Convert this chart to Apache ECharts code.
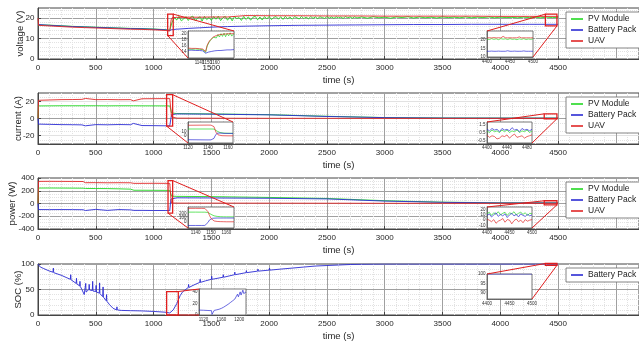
<!DOCTYPE html>
<html>
<head>
<meta charset="utf-8">
<script src="https://cdn.jsdelivr.net/npm/echarts@6/dist/echarts.min.js"></script>
<style>
  html, body { margin: 0; padding: 0; background: #fff; }
  #chart { width: 639px; height: 344px; }
</style>
</head>
<body>
<div id="chart"></div>
<script>
// ---- main plots: voltage ----
const vT   = [0, 5, 100, 200, 300, 400, 500, 600, 700, 800, 900, 1000, 1100, 1140, 1148, 1152, 1160, 1200, 1300, 1400,
              1500, 1640, 1650, 1800, 2000, 2250, 2500, 2750, 3000, 3250, 3500, 3750, 4000, 4250, 4500];
const vUav = [20.0, 16.5, 16.2, 15.9, 15.6, 15.4, 15.2, 15.0, 14.8, 14.6, 14.5, 14.3, 14.0, 13.7, 13.4, 19.2, 20.2, 20.4, 20.5, 20.5,
              20.6, 20.6, 21.3, 21.3, 21.2, 21.2, 21.1, 21.1, 21.0, 21.0, 21.0, 21.0, 20.9, 20.9, 20.9];
const vBat = [16.9, 16.8, 16.5, 16.2, 15.9, 15.7, 15.5, 15.3, 15.1, 14.9, 14.8, 14.6, 14.3, 14.0, 13.6, 14.1, 14.4, 14.6, 15.0, 15.3,
              15.6, 15.9, 15.9, 16.1, 16.3, 16.5, 16.6, 16.7, 16.8, 16.9, 16.9, 17.0, 17.0, 17.0, 17.0];
const pvVT = [0, 100, 200, 300, 400, 500, 600, 700, 800, 900, 1000, 1100, 1140, 1148,
              1160, 1180, 1200, 1220, 1240, 1260, 1280, 1300, 1320, 1340,
              1360, 1380, 1400, 1420, 1440, 1460, 1480, 1500, 1520, 1540,
              1560, 1580, 1600, 1620, 1640, 1660, 1680, 1700, 1720, 1740,
              1760, 1780, 1800, 1820, 1840, 1860, 1880, 1900, 1920, 1940,
              1960, 1980, 2000, 2020, 2040, 2060, 2080, 2100, 2120, 2140,
              2160, 2180, 2200, 2220, 2240, 2260, 2280, 2300, 2320, 2340,
              2360, 2380, 2400, 2420, 2440, 2460, 2480, 2500, 2520, 2540,
              2560, 2580, 2600, 2620, 2640, 2660, 2680, 2700, 2720, 2740,
              2760,
              2800, 2850, 2900, 2950, 3000, 3050, 3100, 3150, 3200, 3250,
              3300, 3350, 3400, 3450, 3500, 3550, 3600, 3650, 3700, 3750,
              3800, 3850, 3900, 3950, 4000, 4050, 4100, 4150, 4200, 4250,
              4300, 4350, 4400, 4450, 4500];
const pvV  = [16.7, 16.6, 16.3, 16.0, 15.8, 15.6, 15.4, 15.2, 15.0, 14.9, 14.7, 14.4, 14.1, 13.7,
              18.0, 20.4, 19.1, 20.9, 18.7, 19.6, 20.8, 18.9, 20.5, 21.0,
              18.8, 19.9, 20.7, 18.6, 20.9, 19.3, 20.4, 18.9, 20.8, 19.5,
              21.0, 18.8, 20.2, 20.9, 19.0, 20.6, 18.7, 20.8, 19.8, 20.3,
              18.9, 20.9, 19.4, 20.7, 19.0, 20.5, 20.9, 19.2, 20.6, 19.1,
              20.8, 19.6, 20.9, 19.3, 20.4, 20.8, 19.5, 20.7, 19.4, 20.9,
              19.7, 20.6, 19.5, 20.8, 20.2, 19.6, 20.9, 19.8, 20.5, 19.7,
              20.8, 19.9, 20.6, 19.8, 20.7, 20.3, 19.9, 20.8, 20.0, 20.6,
              19.9, 20.7, 20.1, 20.6, 19.9, 20.8, 20.2, 20.6, 20.0, 20.7,
              20.1,
              20.6, 20.0, 20.7, 20.2, 20.5, 20.0, 20.6, 20.3, 20.7, 20.1,
              20.6, 20.2, 20.5, 20.1, 20.6, 20.3, 20.5, 20.2, 20.6, 20.2,
              20.5, 20.3, 20.6, 20.2, 20.5, 20.3, 20.4, 20.2, 20.5, 20.3,
              20.5, 20.2, 20.5, 20.3, 20.4];

// ---- current ----
const cT   = [0, 5, 100, 200, 300, 380, 390, 410, 420, 500, 600, 700, 800, 815, 825, 840, 900, 1000, 1100, 1140,
              1146, 1150, 1155, 1160, 1200, 1500, 2000, 2500, 3000, 3500, 4000, 4500];
const cUav = [0, 21.4, 21.8, 22.2, 22.3, 22.5, 23.8, 23.6, 22.0, 22.2, 22.3, 22.1, 22.2, 22.0, 20.8, 23.0, 23.2, 23.3, 23.4, 23.4,
              23.0, 10.0, 2.0, 0.6, 0.4, 0.3, 0.2, 0.2, 0.1, 0.1, 0.1, 0.1];
const cPv  = [0, 14.8, 14.9, 15.0, 15.0, 15.0, 15.0, 15.0, 14.9, 15.0, 14.9, 15.0, 15.0, 15.0, 15.0, 15.0, 14.9, 14.9, 14.8, 14.8,
              14.6, 10.0, 6.5, 6.0, 5.8, 5.4, 4.5, 2.6, 1.1, 0.6, 0.5, 0.5];
const cBat = [0, -6.6, -6.9, -7.2, -7.3, -7.5, -8.8, -8.6, -7.0, -7.2, -7.4, -7.1, -7.3, -7.0, -5.8, -8.0, -8.3, -8.4, -8.6, -8.6,
              -8.4, 0.0, 4.5, 5.4, 5.4, 5.1, 4.3, 2.4, 1.0, 0.5, 0.4, 0.4];

// ---- power ----
const pT   = [0, 5, 100, 200, 300, 390, 410, 500, 600, 700, 800, 815, 830, 900, 1000, 1100, 1140, 1146, 1150, 1155,
              1200, 1500, 2000, 2500, 3000, 3500, 4000, 4500];
const pUav = [0, 347, 348, 347, 346, 345, 326, 327, 325, 326, 325, 300, 316, 316, 317, 316, 315, 300, 80, 8,
              6, 6, 5, 4, 3, 3, 2, 2];
const pPv  = [0, 242, 243, 242, 241, 240, 236, 235, 234, 230, 225, 210, 208, 208, 207, 206, 205, 200, 150, 115,
              112, 108, 95, 79, 44, 21, 11, 10];
const pBat = [0, -95, -96, -95, -96, -98, -110, -92, -108, -95, -100, -70, -108, -108, -110, -110, -110, -100, 70, 90,
              89, 87, 82, 72, 38, 18, 9, 8];

// ---- SOC ----
const sT = [0, 20, 50, 100, 130, 133, 136, 150, 200, 250,
            280, 283, 286, 300, 330, 333, 336, 360, 363, 366,
            380, 400, 410, 413, 416, 440, 443, 446, 470, 473,
            476, 500, 503, 506, 530, 533, 536, 560, 563, 566,
            590, 593, 596, 620, 650, 680, 683, 686, 720, 800,
            900, 1000, 1100, 1140, 1148, 1152, 1170, 1200, 1230, 1250,
            1300, 1303, 1306, 1350, 1400, 1403, 1406, 1450, 1500, 1503,
            1506, 1600, 1603, 1606, 1700, 1703, 1706, 1800, 1803, 1806,
            1900, 1903, 1906, 2000, 2003, 2006, 2100, 2103, 2106, 2200,
            2300, 2303, 2306, 2400, 2500, 2600, 2700, 2800, 3000, 3500,
            4000, 4500];
const sV = [100, 94, 91, 86, 84, 92, 83, 82, 78, 73,
            70, 79, 69, 66, 62, 72, 61, 57, 66, 56,
            50, 40, 42, 62, 45, 50, 60, 49, 48, 66,
            47, 46, 58, 45, 43, 63, 42, 36, 55, 35,
            28, 40, 27, 20, 13, 10, 16, 10, 9, 8.5,
            8, 7, 5.5, 4, 1, 3, 10, 22, 38, 45,
            54, 60, 54, 59, 64, 70, 64, 67, 70, 76,
            70, 74, 79, 74, 79, 84, 79, 83, 87, 83,
            86, 90, 86, 88, 92, 88, 90, 93, 90, 92,
            94, 97, 94, 96, 97, 98, 99, 99.5, 100, 100,
            100, 100];

// ---- inset data ----
const iv1T   = [1125, 1130, 1135, 1140, 1144, 1146, 1148, 1150, 1152, 1154, 1156, 1158, 1160, 1162, 1164, 1166, 1168, 1170, 1172, 1174, 1176, 1178, 1180, 1182, 1185];
const iv1Pv  = [15.0, 14.9, 15.0, 14.9, 14.8, 14.4, 13.9, 16.0, 17.0, 17.8, 18.3, 18.9, 19.4, 18.7, 19.8, 19.0, 20.1, 19.2, 20.3, 19.1, 20.2, 19.4, 20.4, 19.3, 20.2];
const iv1Bat = [14.6, 14.6, 14.5, 14.5, 14.4, 14.2, 13.6, 13.8, 14.0, 14.1, 14.2, 14.3, 14.4, 14.4, 14.5, 14.5, 14.5, 14.6, 14.6, 14.6, 14.7, 14.7, 14.7, 14.8, 14.8];
const iv1Uav = [15.3, 15.2, 15.2, 15.1, 15.0, 14.8, 14.2, 16.2, 17.3, 18.0, 18.5, 19.0, 19.4, 19.5, 19.7, 19.8, 19.9, 19.9, 20.0, 20.0, 20.0, 20.1, 20.1, 20.1, 20.1];

const iv2T   = [4400, 4405, 4410, 4415, 4420, 4425, 4430, 4435, 4440, 4445, 4450, 4455, 4460, 4465, 4470, 4475, 4480, 4485, 4490, 4495, 4500];
const iv2Pv  = [20.4, 20.1, 20.6, 20.2, 20.5, 20.0, 20.6, 20.3, 20.5, 20.1, 20.6, 20.2, 20.4, 20.0, 20.5, 20.2, 20.6, 20.1, 20.4, 20.2, 20.5];
const iv2Uav = [21.0, 21.1, 21.0, 21.2, 21.0, 21.1, 21.0, 21.9, 21.1, 21.0, 21.1, 21.0, 21.1, 21.0, 21.6, 21.0, 21.1, 21.0, 21.1, 21.0, 21.1];
const iv2Bat = [13.3, 13.3, 13.4, 13.3, 13.3, 13.4, 13.3, 13.3, 13.3, 13.6, 13.3, 13.3, 13.4, 13.3, 13.3, 13.3, 13.5, 13.3, 13.3, 13.3, 13.3];

const ic1T   = [1120, 1130, 1140, 1143, 1145, 1146, 1147, 1148, 1149, 1150, 1152, 1154, 1156, 1160, 1165];
const ic1Uav = [23.0, 23.2, 23.4, 23.3, 23.0, 20.0, 14.0, 8.0, 4.5, 2.5, 1.2, 0.7, 0.5, 0.4, 0.4];
const ic1Pv  = [15.0, 15.0, 15.0, 15.0, 15.0, 14.8, 14.0, 12.0, 10.5, 9.0, 7.5, 6.6, 6.1, 5.9, 5.8];
const ic1Bat = [-8.0, -8.2, -8.4, -8.3, -8.0, -5.0, 0.0, 4.0, 6.0, 6.5, 6.3, 5.9, 5.6, 5.5, 5.4];

const ic2T   = [4400, 4405, 4410, 4415, 4420, 4425, 4430, 4435, 4440, 4445, 4450, 4455, 4460, 4465, 4470, 4475, 4480, 4485, 4490];
const ic2Bat = [0.9, 0.7, 1.0, 0.8, 0.9, 0.6, 1.0, 0.8, 0.9, 0.7, 1.1, 0.8, 0.9, 0.6, 1.0, 0.8, 0.9, 0.7, 0.9];
const ic2Pv  = [0.7, 0.5, 0.8, 0.6, 0.7, 0.5, 0.8, 0.6, 0.8, 0.5, 0.7, 0.6, 0.8, 0.5, 0.7, 0.6, 0.8, 0.5, 0.7];
const ic2Uav = [0.2, -0.1, 0.1, 0.0, -0.3, -0.2, 0.1, 0.0, 0.2, -0.2, 0.1, 0.3, -0.1, 0.0, 0.1, -0.2, 0.0, 0.1, 0.2];

const ip1T   = [1135, 1140, 1144, 1146, 1147, 1148, 1149, 1150, 1151, 1152, 1154, 1156, 1158, 1160, 1165];
const ip1Uav = [318, 318, 317, 316, 300, 240, 150, 80, 40, 18, 6, 2, 0, -2, -2];
const ip1Pv  = [228, 228, 227, 227, 226, 220, 200, 175, 155, 140, 126, 120, 117, 116, 115];
const ip1Bat = [-90, -90, -90, -89, -74, -20, 40, 70, 82, 86, 88, 88, 88, 88, 88];

const ip2T   = [4400, 4405, 4410, 4415, 4420, 4425, 4430, 4435, 4440, 4445, 4450, 4455, 4460, 4465, 4470, 4475, 4480, 4485, 4490, 4495, 4500];
const ip2Pv  = [12, 15, 9, 14, 11, 16, 10, 13, 15, 9, 14, 12, 16, 10, 13, 15, 11, 14, 9, 13, 12];
const ip2Bat = [9, 12, 6, 10, 14, 7, 11, 8, 12, 5, 10, 13, 8, 11, 6, 12, 9, 7, 11, 8, 10];
const ip2Uav = [2, 0, -3, 1, -6, -2, 0, 3, -4, 1, 0, -7, -1, 2, -3, 0, -5, 1, -2, 0, 1];

const is1T   = [1110, 1120, 1130, 1138, 1139, 1143, 1144, 1150, 1155, 1160, 1165, 1170, 1175, 1180, 1185, 1190, 1194, 1196, 1198, 1200, 1202, 1204, 1206, 1208, 1210, 1212, 1215];
const is1Soc = [8.5, 8.2, 7.8, 7.5, 1.0, 1.0, 8.0, 9.0, 10.0, 11.5, 13.5, 16.0, 18.5, 21.5, 24.5, 27.5, 30.0, 36.0, 31.5, 33.0, 40.0, 34.5, 36.0, 43.0, 37.0, 38.5, 40.0];
const is2T   = [4400, 4500];
const is2Soc = [100, 100];

const xTicks = [0, 500, 1000, 1500, 2000, 2500, 3000, 3500, 4000, 4500, 5000];
const legendNames = ['PV Module', 'Battery Pack', 'UAV'];

const FONT = 'Liberation Sans, Arial, Helvetica, sans-serif';
const GREEN = '#22d822', BLUE = '#2b2bd4', RED = '#e02626', ZOOM = '#e01e1e';
const plain = v => String(v);

const mainTops = [8, 93, 178, 264];
const mainH = 51;
const yMain = [
  { name: 'voltage (V)', min: 0, max: 25, interval: 10, minor: 5, gap: 12.5 },
  { name: 'current (A)', min: -30, max: 30, interval: 10, minor: 2, gap: 14.5 },
  { name: 'power (W)', min: -400, max: 400, interval: 200, minor: 4, gap: 20.5 },
  { name: 'SOC (%)', min: 0, max: 100, interval: 50, minor: 5, gap: 14.5 }
];
yMain[1].labels = [-20, 0, 20];

// inset boxes (pixels) and axis ranges
const insets = [
  { box: [188, 31, 46, 27], x: [1125, 1185], y: [12, 21], xl: [1130, 1140, 1150, 1160, 1170], yl: [14, 16, 18, 20] },
  { box: [487, 31, 46, 26], x: [4400, 4500], y: [10, 25], xl: [4400, 4450, 4500], yl: [10, 15, 20] },
  { box: [188, 122, 45, 21], x: [1120, 1165], y: [-15, 30], xl: [1120, 1140, 1160], yl: [-10, 0, 10, 20] },
  { box: [487, 122, 45, 21], x: [4400, 4490], y: [-0.8, 1.8], xl: [4400, 4440, 4480], yl: [-0.5, 0.5, 1.5] },
  { box: [188, 207, 46, 21], x: [1135, 1165], y: [-150, 350], xl: [1140, 1150, 1160], yl: [-100, 0, 100, 200, 300] },
  { box: [487, 207, 45, 21], x: [4400, 4500], y: [-15, 25], xl: [4400, 4450, 4500], yl: [-10, 0, 10, 20] },
  { box: [199, 289, 47, 26], x: [1110, 1215], y: [0, 45], xl: [1120, 1160, 1200], yl: [0, 20, 40] },
  { box: [487, 274, 45, 25], x: [4400, 4500], y: [87, 100], xl: [4400, 4450, 4500], yl: [90, 95, 100] }
];

// zoom rectangles in main-plot data units, linked corners (main -> inset)
const zooms = [
  { grid: 0, inset: 0, x: [1122, 1170], y: [11.5, 22], links: [['tr', 'tr'], ['bl', 'bl']] },
  { grid: 0, inset: 1, x: [4390, 4490], y: [16.2, 22], links: [['tl', 'tl'], ['br', 'br']] },
  { grid: 1, inset: 2, x: [1113, 1165], y: [-9, 28], links: [['tr', 'tr'], ['bl', 'bl']] },
  { grid: 1, inset: 3, x: [4380, 4490], y: [-0.3, 5.5], links: [['tl', 'tl'], ['br', 'br']] },
  { grid: 2, inset: 4, x: [1125, 1165], y: [-152, 360], links: [['tr', 'tr'], ['bl', 'bl']] },
  { grid: 2, inset: 5, x: [4380, 4490], y: [-21, 43], links: [['tl', 'tl'], ['br', 'br']] },
  { grid: 3, inset: 6, x: [1113, 1214], y: [0, 46], links: [['tr', 'tl'], ['br', 'bl']] },
  { grid: 3, inset: 7, x: [4390, 4490], y: [97.5, 101], links: [['tl', 'tl'], ['br', 'br']] }
];

const pairs = (t, v) => t.map((x, i) => [x, v[i]]);

function line(name, color, idx, t, v, z, w) {
  return {
    type: 'line', name: name, xAxisIndex: idx, yAxisIndex: idx,
    data: pairs(t, v), symbol: 'none', showSymbol: false,
    lineStyle: { color: color, width: w || 0.9 }, itemStyle: { color: color },
    z: z || 2, animation: false
  };
}

const grids = [], xAxes = [], yAxes = [], series = [];

mainTops.forEach((top, i) => {
  grids.push({ left: 38, right: 0, top: top, height: mainH, outerBoundsMode: 'none', containLabel: false,
               show: true, backgroundColor: '#fff', borderColor: '#444', borderWidth: 1 });
  xAxes.push({
    gridIndex: i, type: 'value', min: 0, max: 5200, interval: 500,
    name: 'time (s)', nameLocation: 'middle', nameGap: 16, nameMoveOverlap: false,
    nameTextStyle: { fontSize: 9.5, color: '#262626', fontFamily: FONT },
    axisLine: { onZero: false, lineStyle: { color: '#444', width: 1 } },
    axisTick: { inside: true, length: 3, lineStyle: { color: '#444' } },
    axisLabel: { fontSize: 8, color: '#262626', margin: 5, fontFamily: FONT, showMaxLabel: false, customValues: xTicks, formatter: plain },
    splitLine: { show: true, lineStyle: { color: '#a0a0a0', width: 1 } },
    minorTick: { show: false, splitNumber: 5 },
    minorSplitLine: { show: true, lineStyle: { color: '#e2e2e2', width: 1, type: 'dotted' } }
  });
  const y = yMain[i];
  const ax = {
    gridIndex: i, type: 'value', min: y.min, max: y.max, interval: y.interval,
    name: y.name, nameLocation: 'middle', nameGap: y.gap, nameMoveOverlap: false,
    nameTextStyle: { fontSize: 9.5, color: '#262626', fontFamily: FONT },
    axisLine: { onZero: false, lineStyle: { color: '#444', width: 1 } },
    axisTick: { inside: true, length: 3, lineStyle: { color: '#444' } },
    axisLabel: { fontSize: 8, color: '#262626', margin: 3.5, fontFamily: FONT, showMaxLabel: y.max % y.interval === 0, formatter: plain },
    splitLine: { show: true, lineStyle: { color: '#a0a0a0', width: 1 } },
    minorTick: { show: false, splitNumber: y.minor },
    minorSplitLine: { show: true, lineStyle: { color: '#e2e2e2', width: 1, type: 'dotted' } }
  };
  if (y.labels) {
    ax.axisLabel.customValues = y.labels;
    ax.axisTick.customValues = y.labels;
    ax.splitLine.lineStyle.color = ['#e2e2e2', '#a0a0a0'];
  }
  yAxes.push(ax);
});

insets.forEach((d, k) => {
  const gi = 4 + k;
  grids.push({ left: d.box[0], top: d.box[1], width: d.box[2], height: d.box[3], outerBoundsMode: 'none', containLabel: false,
               show: true, backgroundColor: '#fff', borderColor: '#555', borderWidth: 0.8, z: 5 });
  const common = {
    gridIndex: gi, type: 'value', z: 6,
    axisLine: { onZero: false, lineStyle: { color: '#555', width: 0.8 } },
    axisTick: { show: false }, splitLine: { show: false }
  };
  xAxes.push(Object.assign({}, common, {
    min: d.x[0], max: d.x[1],
    axisLabel: { fontSize: 4.5, color: '#333', margin: 2, fontFamily: FONT, customValues: d.xl, formatter: plain }
  }));
  yAxes.push(Object.assign({}, common, {
    min: d.y[0], max: d.y[1],
    axisLabel: { fontSize: 4.5, color: '#333', margin: 1.5, fontFamily: FONT, customValues: d.yl, formatter: plain }
  }));
});

// main series
series.push(line('PV Module', GREEN, 0, pvVT, pvV));
series.push(line('Battery Pack', BLUE, 0, vT, vBat));
series.push(line('UAV', RED, 0, vT, vUav));
series.push(line('PV Module', GREEN, 1, cT, cPv));
series.push(line('Battery Pack', BLUE, 1, cT, cBat));
series.push(line('UAV', RED, 1, cT, cUav));
series.push(line('PV Module', GREEN, 2, pT, pPv));
series.push(line('Battery Pack', BLUE, 2, pT, pBat));
series.push(line('UAV', RED, 2, pT, pUav));
series.push(line('Battery Pack', BLUE, 3, sT, sV));

// inset series
series.push(line('PV Module', GREEN, 4, iv1T, iv1Pv, 7, 0.7));
series.push(line('Battery Pack', BLUE, 4, iv1T, iv1Bat, 7, 0.7));
series.push(line('UAV', RED, 4, iv1T, iv1Uav, 7, 0.7));
series.push(line('PV Module', GREEN, 5, iv2T, iv2Pv, 7, 0.7));
series.push(line('Battery Pack', BLUE, 5, iv2T, iv2Bat, 7, 0.7));
series.push(line('UAV', RED, 5, iv2T, iv2Uav, 7, 0.7));
series.push(line('PV Module', GREEN, 6, ic1T, ic1Pv, 7, 0.7));
series.push(line('Battery Pack', BLUE, 6, ic1T, ic1Bat, 7, 0.7));
series.push(line('UAV', RED, 6, ic1T, ic1Uav, 7, 0.7));
series.push(line('PV Module', GREEN, 7, ic2T, ic2Pv, 7, 0.7));
series.push(line('Battery Pack', BLUE, 7, ic2T, ic2Bat, 7, 0.7));
series.push(line('UAV', RED, 7, ic2T, ic2Uav, 7, 0.7));
series.push(line('PV Module', GREEN, 8, ip1T, ip1Pv, 7, 0.7));
series.push(line('Battery Pack', BLUE, 8, ip1T, ip1Bat, 7, 0.7));
series.push(line('UAV', RED, 8, ip1T, ip1Uav, 7, 0.7));
series.push(line('PV Module', GREEN, 9, ip2T, ip2Pv, 7, 0.7));
series.push(line('Battery Pack', BLUE, 9, ip2T, ip2Bat, 7, 0.7));
series.push(line('UAV', RED, 9, ip2T, ip2Uav, 7, 0.7));
series.push(line('Battery Pack', BLUE, 10, is1T, is1Soc, 7, 0.7));
series.push(line('Battery Pack', BLUE, 11, is2T, is2Soc, 5, 0.7));

function legendAt(top, names) {
  return {
    data: names, orient: 'vertical', left: 566, top: top,
    padding: [1.5, 4, 1.5, 5], itemGap: 0, itemWidth: 12, itemHeight: 1.6, icon: 'rect',
    selectedMode: false, backgroundColor: '#fff', borderColor: '#666', borderWidth: 0.8,
    textStyle: { fontSize: 8.5, lineHeight: 11, color: '#222', fontFamily: FONT }, z: 8
  };
}

const chart = echarts.init(document.getElementById('chart'), null, { renderer: 'canvas' });
chart.setOption({
  animation: false,
  backgroundColor: '#fff',
  textStyle: { fontFamily: FONT },
  grid: grids,
  xAxis: xAxes,
  yAxis: yAxes,
  legend: [
    legendAt(12, legendNames),
    legendAt(97, legendNames),
    legendAt(182, legendNames),
    legendAt(268, ['Battery Pack'])
  ],
  series: series
});

// zoom rectangles and connector lines
const graphics = [];
zooms.forEach(zm => {
  const a = chart.convertToPixel({ gridIndex: zm.grid }, [zm.x[0], zm.y[1]]);
  const b = chart.convertToPixel({ gridIndex: zm.grid }, [zm.x[1], zm.y[0]]);
  const r = { tl: [a[0], a[1]], tr: [b[0], a[1]], bl: [a[0], b[1]], br: [b[0], b[1]] };
  const bx = insets[zm.inset].box;
  const q = { tl: [bx[0], bx[1]], tr: [bx[0] + bx[2], bx[1]], bl: [bx[0], bx[1] + bx[3]], br: [bx[0] + bx[2], bx[1] + bx[3]] };
  graphics.push({
    type: 'rect', z: 20, silent: true,
    shape: { x: a[0], y: a[1], width: b[0] - a[0], height: b[1] - a[1] },
    style: { fill: 'none', stroke: ZOOM, lineWidth: 1.3 }
  });
  zm.links.forEach(l => {
    graphics.push({
      type: 'line', z: 20, silent: true,
      shape: { x1: r[l[0]][0], y1: r[l[0]][1], x2: q[l[1]][0], y2: q[l[1]][1] },
      style: { stroke: ZOOM, lineWidth: 1 }
    });
  });
});
chart.setOption({ graphic: graphics });
</script>
</body>
</html>
